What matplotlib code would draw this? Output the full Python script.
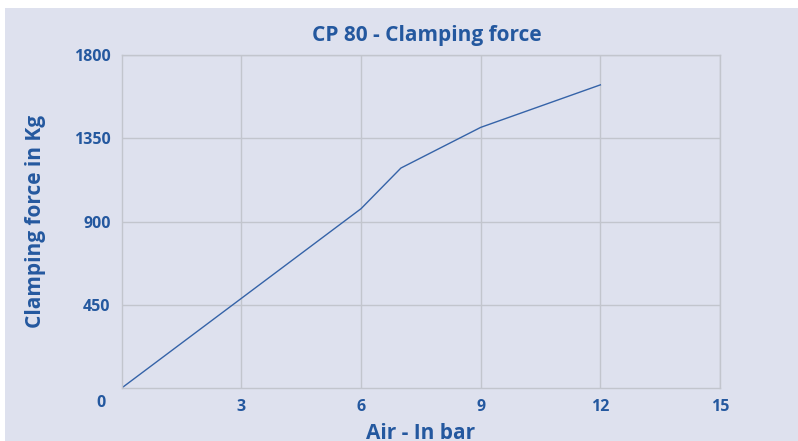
import matplotlib.pyplot as plt
from matplotlib.patches import Rectangle

# data
air_bar = [0, 3, 6, 7, 9, 12]
force_kg = [0, 485, 970, 1190, 1410, 1640]
x_ticks = [3, 6, 9, 12, 15]
y_ticks = [450, 900, 1350, 1800]

blue = '#24589f'
line_blue = '#3563a8'
bg = '#dee1ee'
grid_col = '#c2c5cd'

plt.rcParams['font.family'] = ['Open Sans', 'DejaVu Sans']

fig = plt.figure(figsize=(7.98, 4.41), dpi=100)
fig.patch.set_facecolor('white')
# chart background (leaves a thin white strip top/left)
fig.patches.append(Rectangle((5 / 798, 0), 1, 1 - 8 / 441, transform=fig.transFigure,
                             facecolor=bg, edgecolor='none', zorder=-10))

ax = fig.add_axes([121.7 / 798, 1 - 388 / 441, (720 - 121.7) / 798, (388 - 55.3) / 441])
ax.set_facecolor(bg)
ax.plot(air_bar, force_kg, color=line_blue, lw=1.0)

ax.set_xlim(0, 15)
ax.set_ylim(0, 1800)
ax.set_xticks(x_ticks)
ax.set_yticks(y_ticks)
ax.grid(True, color=grid_col, lw=1)
ax.set_axisbelow(True)
for s in ax.spines.values():
    s.set_color(grid_col)
    s.set_linewidth(1)
ax.tick_params(length=0, labelcolor=blue, labelsize=11.5)
ax.tick_params(axis='x', pad=8)
ax.tick_params(axis='y', pad=8)
for lab in ax.get_xticklabels() + ax.get_yticklabels():
    lab.set_fontweight('bold')

# corner "0" label
fig.text(101 / 798, 1 - 403 / 441, '0', color=blue, fontsize=11.5, fontweight='bold',
         ha='center', va='center')

ax.set_title('CP 80 - Clamping force', color=blue, fontsize=15, fontweight='bold',
             pad=10, x=0.5 + 6 / 598)
ax.set_xlabel('Air - In bar', color=blue, fontsize=15, fontweight='bold', labelpad=6)
ax.set_ylabel('Clamping force in Kg', color=blue, fontsize=15, fontweight='bold', labelpad=20)

fig.savefig('out.png', dpi=100, facecolor=fig.get_facecolor())
